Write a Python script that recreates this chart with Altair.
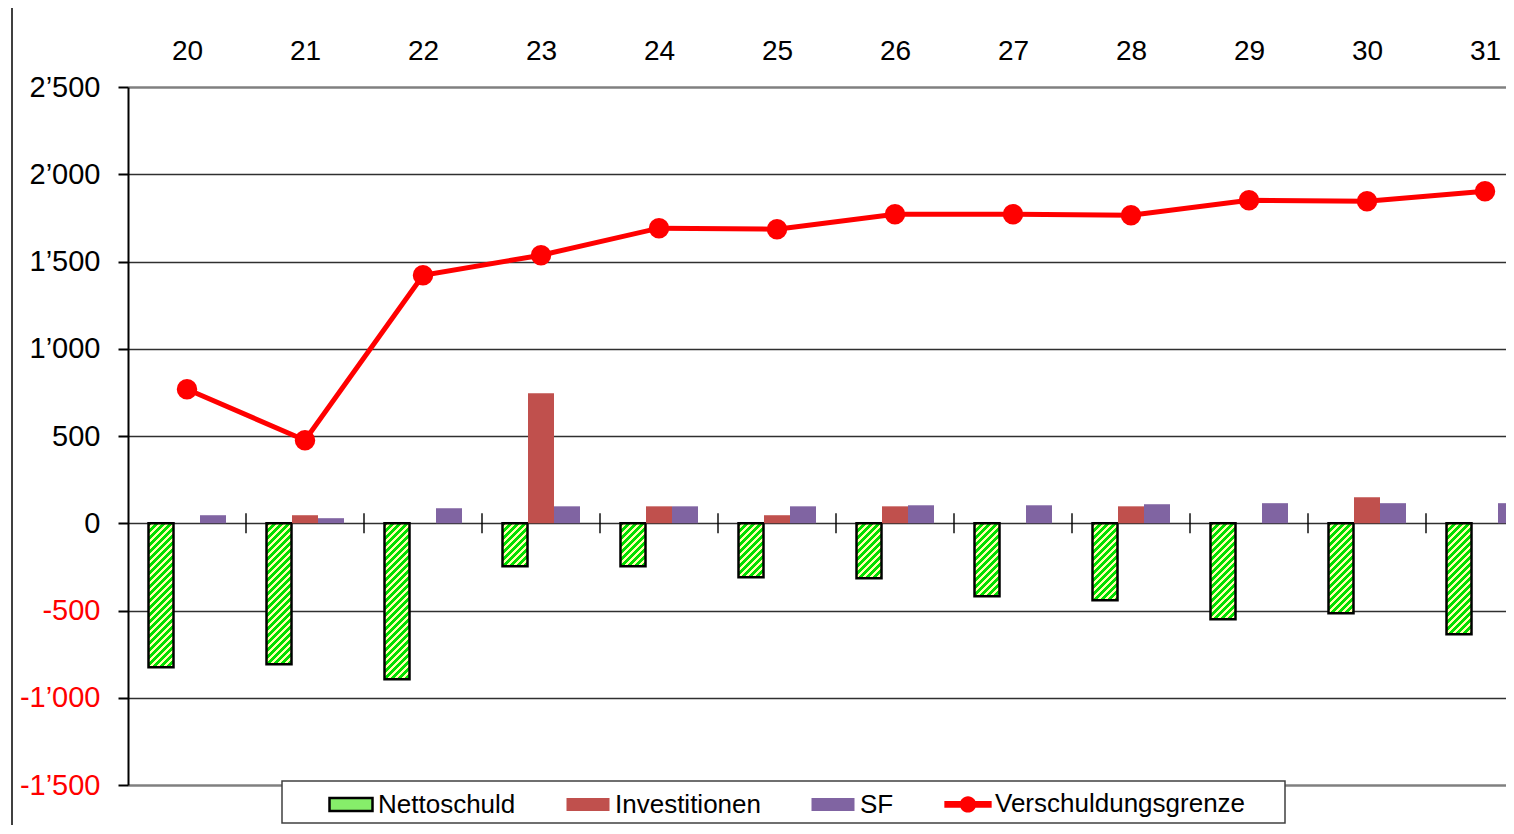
import altair as alt
import pandas as pd

# ---------------- data ----------------
categories = ["20", "21", "22", "23", "24", "25", "26", "27", "28", "29", "30", "31"]
nettoschuld = [-825, -808, -894, -246, -246, -309, -315, -418, -441, -550, -516, -636]
investitionen = [0, 46, 0, 745, 97, 46, 97, 0, 97, 0, 149, 0]
sf = [46, 29, 86, 97, 97, 97, 103, 103, 109, 115, 115, 115]
grenze = [768, 476, 1421, 1536, 1691, 1685, 1771, 1771, 1765, 1851, 1845, 1903]
y_ticks = [-1500, -1000, -500, 0, 500, 1000, 1500, 2000, 2500]
series_names = ["Nettoschuld", "Investitionen", "SF", "Verschuldungsgrenze"]
series_colors = ["#86EE6A", "#C0504D", "#8064A2", "#FF0000"]

# ---------------- layout / style ----------------
FONT = "Liberation Sans"
PLOT_W, PLOT_H = 1378, 698
STEP = 118.0          # px per category
BAR_PX = 25
SLOT = 26.0 / STEP    # bar offset in category units

idx = list(range(len(categories)))
x_domain = [-0.5, -0.5 + PLOT_W / STEP]

neg_df = pd.DataFrame({"cat": categories, "idx": idx, "value": nettoschuld})
neg_df["xpos"] = neg_df["idx"] - SLOT

pos_rows = []
for i, c in enumerate(categories):
    pos_rows.append({"cat": c, "idx": i, "series": "Investitionen", "value": investitionen[i], "xpos": i})
    pos_rows.append({"cat": c, "idx": i, "series": "SF", "value": sf[i], "xpos": i + SLOT})
pos_df = pd.DataFrame(pos_rows)

line_df = pd.DataFrame({"cat": categories, "idx": idx, "value": grenze})
line_df["xpos"] = line_df["idx"]
tick_df = pd.DataFrame({"xpos": [i + 0.5 for i in idx], "value": [0] * len(idx)})

x_scale = alt.Scale(domain=x_domain, nice=False, zero=False, padding=0)
y_scale = alt.Scale(domain=[-1500, 2500], nice=False, padding=0)

# hatch pattern via per-bar linear gradient (fixed pixel period)
GREEN, LIGHT = "#00DE00", "#FFFFB0"
L = 200.0
P = 7.0
stops = []
k = 0
while k * P < L:
    a = k * P / L
    b = (k * P + P * 0.5) / L
    c = (k + 1) * P / L
    stops += [(a, GREEN), (min(b, 1), GREEN), (min(b, 1), LIGHT), (min(c, 1), LIGHT)]
    k += 1
stops_str = "[" + ",".join("{offset:%.4f,color:'%s'}" % (o, col) for o, col in stops) + "]"
H = "abs(scale('y', datum.value) - scale('y', 0))"
hatch_expr = (
    "{gradient:'linear', x1:0, y1:0, "
    f"x2: {BAR_PX}*{L}/({BAR_PX*BAR_PX} + pow({H},2)), "
    f"y2: ({H})*{L}/({BAR_PX*BAR_PX} + pow({H},2)), "
    f"stops: {stops_str}}}"
)

label_expr_x = "[" + ",".join(f"'{c}'" for c in categories) + "][round(datum.value)]"
x_axis = alt.Axis(
    orient="top", values=idx, labelExpr=label_expr_x, domain=False, ticks=False,
    grid=False, labelFont=FONT, labelFontSize=28, labelColor="#000000",
    labelPadding=28, labelBaseline="alphabetic", labelFlush=False,
    labelOverlap=False, title=None,
)
y_axis = alt.Axis(
    values=y_ticks,
    labelExpr="(datum.value < 0 ? '-' : '') + replace(format(abs(datum.value), ','), ',', '\u2019')",
    labelFont=FONT, labelFontSize=29,
    labelColor=alt.condition("datum.value < 0", alt.value("#FF0000"), alt.value("#000000")),
    labelPadding=18, tickSize=10, tickColor="#000000", tickWidth=2,
    domainColor="#000000", domainWidth=2, grid=True,
    gridColor=alt.condition("datum.value == 2500 || datum.value == -1500",
                            alt.value("#808080"), alt.value("#303030")),
    gridWidth=alt.condition("datum.value == 2500 || datum.value == -1500",
                            alt.value(2.5), alt.value(1.3)),
    title=None, labelOverlap=False, labelFlush=False,
)

X = alt.X("xpos:Q", scale=x_scale, axis=x_axis)
Y = alt.Y("value:Q", scale=y_scale, axis=y_axis, stack=None)

rect_path = "M-1,-0.3H1V0.3H-1Z"
line_path = ("M-1.1,-0.16H1.1V0.16H-1.1Z "
             "M0.38,0A0.38,0.38,0,1,1,-0.38,0A0.38,0.38,0,1,1,0.38,0Z")
legend = alt.Legend(
    title=None, orient="none", legendX=200, legendY=694,
    direction="horizontal", columns=4, columnPadding=45,
    labelFont=FONT, labelFontSize=26, labelColor="#000000", labelOffset=4,
    labelLimit=500, symbolSize=1849, padding=0,
    symbolType={"expr": f"datum.value === 'Verschuldungsgrenze' ? '{line_path}' : '{rect_path}'"},
    symbolStrokeColor={"expr": "datum.value === 'Nettoschuld' ? '#000000' : 'transparent'"},
    symbolStrokeWidth=2.5, symbolOpacity=1,
)

neg = alt.Chart(neg_df).mark_bar(
    size=BAR_PX, stroke="#000000", strokeWidth=2.5, fill={"expr": hatch_expr}
).encode(x=X, y=Y)

pos = alt.Chart(pos_df).mark_bar(size=26, opacity=1).encode(
    x=X, y=Y,
    color=alt.Color("series:N", scale=alt.Scale(domain=series_names, range=series_colors),
                    legend=legend),
)

ticks = alt.Chart(tick_df).mark_tick(orient="vertical", size=20, thickness=2, color="#000000").encode(
    x=X, y=Y,
)

line = alt.Chart(line_df).mark_line(color="#FF0000", strokeWidth=5).encode(x=X, y=Y)
points = alt.Chart(line_df).mark_circle(color="#FF0000", size=420, opacity=1).encode(x=X, y=Y)

legend_box = alt.Chart(alt.Data(values=[{"a": 1}])).mark_rect(
    fill="#FFFFFF", stroke="#404040", strokeWidth=1.5
).encode(x=alt.value(154), x2=alt.value(1157), y=alt.value(694), y2=alt.value(736))

left_border = alt.Chart(alt.Data(values=[{"a": 1}])).mark_rule(
    color="#404040", strokeWidth=2
).encode(x=alt.value(-116), y=alt.value(-90), y2=alt.value(760))

chart = alt.layer(neg, pos, ticks, line, points, legend_box, left_border).properties(
    width=PLOT_W, height=PLOT_H,
    autosize=alt.AutoSizeParams(type="none"),
    padding={"left": 120, "top": 79, "right": 0, "bottom": 40},
    background="#FFFFFF",
).configure_view(strokeWidth=0)

chart.save("out.html", embed_options={"renderer": "svg", "actions": False})
